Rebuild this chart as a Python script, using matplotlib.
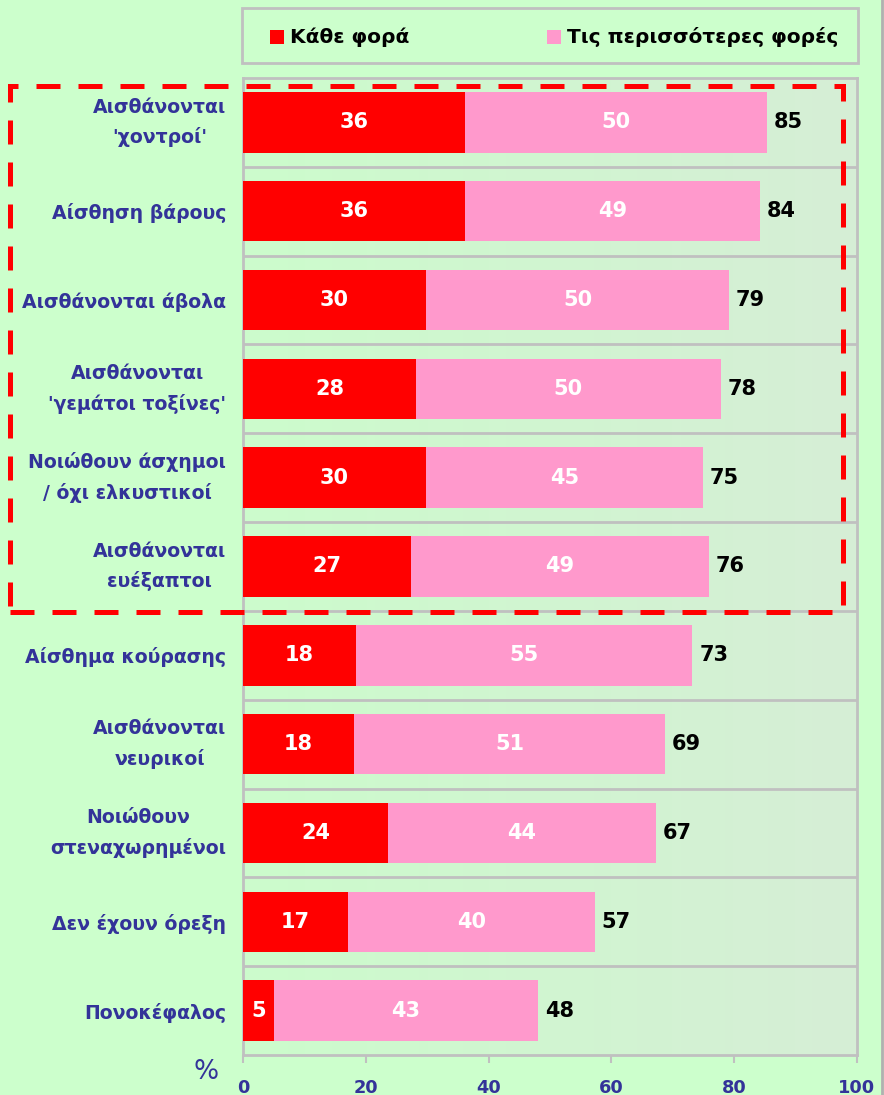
import numpy as np
import matplotlib
matplotlib.use("Agg")
import matplotlib.pyplot as plt
from matplotlib.patches import Rectangle
from matplotlib.lines import Line2D

categories = [
    "Αισθάνονται\n'χοντροί'",
    "Αίσθηση βάρους",
    "Αισθάνονται άβολα",
    "Αισθάνονται\n'γεμάτοι τοξίνες'",
    "Νοιώθουν άσχημοι\n/ όχι ελκυστικοί",
    "Αισθάνονται\nευέξαπτοι",
    "Αίσθημα κούρασης",
    "Αισθάνονται\nνευρικοί",
    "Νοιώθουν\nστεναχωρημένοι",
    "Δεν έχουν όρεξη",
    "Πονοκέφαλος",
]
every_time = [36.2, 36.1, 29.8, 28.2, 29.8, 27.3, 18.4, 18.1, 23.6, 17.1, 5.0]
every_time_labels = ["36", "36", "30", "28", "30", "27", "18", "18", "24", "17", "5"]
most_times_labels = ["50", "49", "50", "50", "45", "49", "55", "51", "44", "40", "43"]
totals = [85.4, 84.2, 79.2, 77.8, 74.9, 75.9, 73.2, 68.8, 67.2, 57.3, 48.1]
total_labels = ["85", "84", "79", "78", "75", "76", "73", "69", "67", "57", "48"]
xticks = [0, 20, 40, 60, 80, 100]
legend_labels = ["Κάθε φορά", "Τις περισσότερες φορές"]

RED = "#FF0000"
PINK = "#FF99CC"
NAVY = "#333399"
BG = "#CCFFCC"
GRID = "#C0C0C0"

W, H = 884, 1095
fig = plt.figure(figsize=(W / 100, H / 100), dpi=100)
fig.patch.set_facecolor(BG)


def fx(px):
    return px / W


def fy(py):
    return 1 - py / H


ax = fig.add_axes([fx(243), fy(1055), fx(857) - fx(243), fy(78) - fy(1055)])
ax.set_facecolor(BG)

n = len(categories)
y = np.arange(n)
ax.set_xlim(0, 100)
ax.set_ylim(n - 0.5, -0.5)

# gradient background of plot area
grad = np.linspace(0, 1, 256).reshape(1, -1)
c0 = np.array([0xCC, 0xFC, 0xCC]) / 255
c1 = np.array([0xD6, 0xEE, 0xD6]) / 255
img = c0[None, None, :] * (1 - grad[..., None]) + c1[None, None, :] * grad[..., None]
ax.imshow(img, extent=[0, 100, n - 0.5, -0.5], aspect="auto", zorder=0)

for k in range(1, n):
    ax.axhline(k - 0.5, color=GRID, lw=2, zorder=1)

et = np.array(every_time)
tot = np.array(totals)
bh = 0.68
ax.barh(y, et, height=bh, color=RED, zorder=3)
ax.barh(y, tot - et, left=et, height=bh, color=PINK, zorder=3)

vfont = dict(fontsize=15, fontweight="bold", family="DejaVu Sans")
for i in range(n):
    ax.text(et[i] / 2, y[i], every_time_labels[i], ha="center", va="center",
            color="white", zorder=4, **vfont)
    ax.text(et[i] + (tot[i] - et[i]) / 2, y[i], most_times_labels[i], ha="center",
            va="center", color="white", zorder=4, **vfont)
    ax.text(tot[i] + 1.1, y[i], total_labels[i], ha="left", va="center",
            color="black", zorder=4, **vfont)

ax.set_yticks(y)
ax.set_yticklabels(categories, fontsize=13.6, fontweight="bold", color=NAVY,
                   multialignment="center", linespacing=1.65)
for lab in ax.get_yticklabels():
    if "\n" in lab.get_text():
        lab.set_verticalalignment("center")
ax.tick_params(axis="y", length=0, pad=12)
ax.set_xticks(xticks)
ax.set_xticklabels([str(t) for t in xticks], fontsize=12.8, fontweight="bold",
                   color=NAVY)
ax.tick_params(axis="x", length=6, width=1.5, color=GRID, pad=11)
for sp in ax.spines.values():
    sp.set_color(GRID)
    sp.set_linewidth(2)

fig.text(fx(206), fy(1072), "%", fontsize=19, color=NAVY, ha="center",
         va="center")

# legend (manual, matching the reference layout)
fig.patches.append(Rectangle((fx(242), fy(63)), fx(858) - fx(242), fy(8) - fy(63),
                             transform=fig.transFigure, facecolor=BG,
                             edgecolor=GRID, linewidth=2, zorder=2))
for (sx, tx), color, lab in zip([(270, 290), (547, 567)], [RED, PINK], legend_labels):
    fig.patches.append(Rectangle((fx(sx), fy(44)), fx(14), fy(30) - fy(44),
                                 transform=fig.transFigure, facecolor=color,
                                 edgecolor="none", zorder=3))
    fig.text(fx(tx), fy(37), lab, fontsize=14.5, fontweight="bold", color="black",
             ha="left", va="center", zorder=3)

# dashed highlight box
box = Rectangle((fx(10), fy(612)), fx(843) - fx(10), fy(86) - fy(612),
                transform=fig.transFigure, fill=False, edgecolor=RED,
                linewidth=3.6, linestyle=(0, (4.8, 3.6)), zorder=10)
fig.patches.append(box)

fig.add_artist(Line2D([fx(882), fx(882)], [0, 1], color="#B0B0B0", lw=2,
                      transform=fig.transFigure))

fig.savefig("out.png", dpi=100, facecolor=fig.get_facecolor())
